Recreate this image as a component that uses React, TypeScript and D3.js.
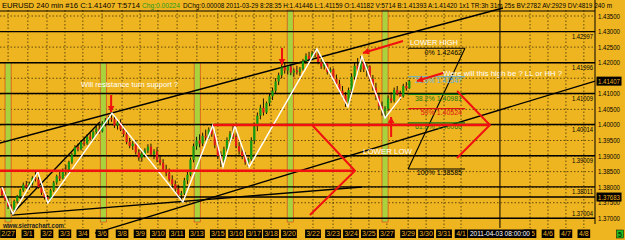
import React from 'react';
import * as d3 from 'd3';

const W = 625;
const H = 240;
const BG = '#EFB520';
const FONT = '"Liberation Sans", Arial, sans-serif';

// EURUSD 240 min bars, prices in pips above 1.3700: [open, high, low, close]
const pipBase = 1.37;
const bars: number[][] = [
  [98, 100, 70, 75], [75, 82, 55, 60], [60, 66, 30, 38], [38, 45, 14, 28],
  [28, 60, 25, 55], [55, 75, 48, 70], [70, 95, 62, 90], [90, 115, 85, 108], [108, 120, 95, 100], [100, 118, 92, 112], [112, 135, 105, 130], [130, 149, 118, 125],
  [125, 132, 95, 100], [100, 108, 75, 82], [82, 90, 60, 68], [68, 75, 49, 62],
  [62, 95, 58, 90], [90, 120, 85, 115], [115, 140, 108, 135], [135, 150, 120, 128], [128, 160, 125, 155], [155, 172, 140, 150], [150, 185, 145, 180],
  [180, 210, 175, 205], [205, 235, 200, 228], [228, 240, 215, 222], [222, 250, 218, 245], [245, 262, 232, 240], [240, 270, 236, 262], [262, 275, 250, 255],
  [255, 282, 250, 278], [278, 295, 268, 288], [288, 300, 272, 280], [280, 312, 276, 305], [305, 322, 295, 315], [315, 330, 302, 322], [322, 338, 310, 318],
  [318, 330, 290, 298], [298, 315, 285, 308], [308, 318, 280, 285], [285, 295, 262, 270], [270, 280, 238, 245], [245, 258, 225, 232], [232, 248, 220, 240],
  [240, 252, 205, 212], [212, 222, 185, 195], [195, 215, 182, 208], [208, 225, 195, 218], [218, 238, 210, 230], [230, 240, 200, 205], [205, 222, 190, 215],
  [215, 228, 180, 188], [188, 200, 170, 178], [178, 190, 150, 158], [158, 172, 135, 145], [145, 160, 118, 125], [125, 138, 100, 110], [110, 122, 85, 95],
  [95, 108, 65, 75], [75, 88, 52, 80],
  [80, 130, 75, 122], [122, 150, 110, 140], [140, 195, 135, 188], [188, 240, 180, 232], [232, 262, 220, 250], [250, 270, 228, 240], [240, 275, 232, 265],
  [265, 285, 250, 260], [260, 292, 255, 285], [285, 300, 262, 270],
  [270, 280, 225, 235], [235, 245, 190, 200], [200, 215, 165, 185],
  [185, 230, 178, 222], [222, 260, 215, 252], [252, 280, 240, 272], [272, 297, 255, 262],
  [262, 270, 225, 232], [232, 245, 205, 215], [215, 228, 190, 200], [200, 212, 172, 180], [180, 195, 165, 190],
  [190, 260, 185, 250], [250, 305, 240, 295], [295, 340, 280, 330], [330, 365, 318, 355], [355, 385, 330, 340], [340, 375, 335, 370], [370, 400, 360, 392],
  [392, 420, 380, 410], [410, 450, 400, 440], [440, 468, 428, 460], [460, 495, 450, 485], [485, 500, 465, 475], [475, 492, 462, 488], [488, 495, 460, 468],
  [468, 482, 455, 475], [475, 490, 462, 470], [470, 486, 458, 480], [480, 512, 475, 505], [505, 530, 498, 522], [522, 535, 505, 512], [512, 538, 508, 530],
  [530, 544, 518, 525],
  [525, 535, 495, 502], [502, 512, 480, 488], [488, 505, 478, 498], [498, 503, 462, 470], [470, 485, 455, 478], [478, 482, 440, 448], [448, 462, 425, 432],
  [432, 445, 400, 410], [410, 425, 385, 395], [395, 405, 358, 372],
  [372, 420, 365, 412], [412, 465, 405, 455], [455, 500, 445, 490], [490, 515, 470, 478], [478, 521, 470, 505],
  [505, 512, 470, 478], [478, 495, 455, 488], [488, 492, 440, 448], [448, 460, 410, 420], [420, 435, 380, 392], [392, 400, 350, 360], [360, 375, 330, 345],
  [345, 360, 322, 352],
  [352, 395, 345, 385], [385, 405, 370, 378], [378, 420, 372, 412], [412, 425, 395, 400], [400, 410, 380, 392], [392, 432, 388, 425], [425, 438, 410, 418],
  [418, 445, 416, 441],
];

// price axis
const priceTicks = [1.435, 1.43, 1.425, 1.42, 1.415, 1.41, 1.405, 1.4, 1.395, 1.39, 1.385, 1.38, 1.375, 1.37];
const hiddenTicks = [1.415];
const markerPrices = [1.41407, 1.37683];

// drawn horizontal levels
const levelPrices = [1.42997, 1.41996, 1.41009, 1.40014, 1.39009, 1.38011, 1.37683, 1.37004];
const levelLabels = ['1.42997', '1.41996', '1.41009', '1.40014', '1.39009', '1.38011', '', '1.37004'];

// date axis (bar index of each label)
const dateLabels = ['2/27', '3/1', '3/2', '3/3', '3/4', '3/6', '3/8', '3/9', '3/10', '3/11', '3/13', '3/15', '3/16', '3/17', '3/18', '3/20',
  '3/22', '3/23', '3/24', '3/25', '3/27', '3/29', '3/30', '3/31', '4/1', '4/5', '4/6', '4/7', '4/8'];
const dateBars = [2, 8.5, 14.8, 20.7, 26.6, 32.9, 39.5, 45.4, 51.3, 57.6, 64.1, 71, 77, 82.9, 88.5, 94.4,
  102.3, 108.9, 114.8, 120.7, 126.6, 133.6, 139.5, 145.4, 151, 173.7, 179.6, 185.5, 191.4];
const cursorBar = 163.8;
const cursorLabel = '2011-04-03 08:00:00';

// sunday session highlight bands
const bandBars = [1, 32.3, 63.2, 93.8, 125];
const bandTops = [1.42, 1.42, 1.42, 1.438, 1.438];

// zigzag swing points
const zigBars = [0, 3.6, 11.8, 15.1, 36.2, 59.5, 69.4, 72.7, 76.6, 81.3, 103.6, 113.8, 118.4, 126, 131.3];
const zigPrices = [1.38, 1.3714, 1.3849, 1.3749, 1.4038, 1.3752, 1.4, 1.3865, 1.3997, 1.3865, 1.4244, 1.4058, 1.4221, 1.4022, 1.409];

// black trend lines [bar1, price1, bar2, price2]
const trendLines = [
  [-0.7, 1.39419, 164.8, 1.43757],
  [3.3, 1.37138, 32.2, 1.40094],
  [3.3, 1.37105, 118.4, 1.38005],
  [30.6, 1.36527, 195.1, 1.41411],
];

// fibonacci retracement
const fibNames = ['0%', '23.6%', '38.2%', '50%', '61.8%', '100%'];
const fibPrices = [1.42462, 1.41547, 1.40981, 1.40524, 1.40066, 1.38585];
const fibFrom = 133.6;
const fibTo = 152.3;
const fibColors = ['#000', '#5ab4e6', '#147814', '#e01010', '#147814', '#000'];

// red annotation polylines, [bar, price] points
const redLines = [
  [[-0.7, 1.38529], [116.1, 1.38529]],
  [[69.4, 1.39997], [160.5, 1.39997]],
  [[102, 1.39997], [116.1, 1.38529], [101.3, 1.37105]],
  [[149.7, 1.4109], [160.5, 1.39997], [149.7, 1.38937]],
];
// red arrows [fromBar, fromPrice, toBar, toPrice]
const redArrows = [
  [35.9, 1.40961, 35.9, 1.40415],
  [92.1, 1.42472, 92.1, 1.41925],
  [128, 1.39612, 128, 1.40255],
  [131.9, 1.42697, 118.75, 1.42311],
  [145.1, 1.41668, 136.5, 1.41411],
];

// white notes [text, bar, price, width]
const noteTexts = ['Will resistance turn support ?', 'LOWER HIGH', 'LOWER LOW', 'Were will this high be ? LL or HH ?'];
const noteBars = [26, 134.2, 118.75, 145.1];
const notePrices = [1.41218, 1.42584, 1.39082, 1.41572];
const noteWidths = [97, 48, 49, 119];

const x = d3.scaleLinear().domain([0, 195]).range([2, 594.8]);
const y = d3.scaleLinear().domain([1.37, 1.435]).range([218.3, 16]);
const pip = (v: number) => pipBase + v / 10000;

const CHART_TOP = 10;
const CHART_BOTTOM = 222;
const AXIS_X = 595;

function arrowHead(x1: number, y1: number, x2: number, y2: number, len = 6, w = 3.3) {
  const a = Math.atan2(y2 - y1, x2 - x1);
  const bx = x2 - len * Math.cos(a);
  const by = y2 - len * Math.sin(a);
  return `${x2},${y2} ${bx + w * Math.sin(a)},${by - w * Math.cos(a)} ${bx - w * Math.sin(a)},${by + w * Math.cos(a)}`;
}

export default function App() {
  const line = d3.line<number[]>().x((d) => x(d[0])).y((d) => y(d[1]));
  const zig = zigBars.map((b, i) => [b, zigPrices[i]]);

  return (
    <svg width={W} height={H} style={{ position: 'absolute', left: 0, top: 0, fontFamily: FONT }}>
      <rect width={W} height={H} fill={BG} />

      {/* grid */}
      {priceTicks.map((p) => (
        <line key={'hg' + p} x1={0} x2={AXIS_X} y1={y(p)} y2={y(p)} stroke="#000" strokeWidth={0.8} strokeDasharray="1.5,2" opacity={0.75} />
      ))}
      {dateBars.map((b) => (
        <line key={'vg' + b} x1={x(b)} x2={x(b)} y1={CHART_TOP} y2={CHART_BOTTOM + 6} stroke="#000" strokeWidth={0.8} strokeDasharray="1.5,2" opacity={0.75} />
      ))}

      {/* sunday bands */}
      {bandBars.map((b, i) => {
        const top = Math.max(CHART_TOP, y(bandTops[i]));
        return (
          <rect key={'band' + i} x={x(b)} y={top} width={x(b + 2) - x(b)} height={CHART_BOTTOM - top}
            fill="#a9d23c" stroke="#d8301c" strokeWidth={0.6} />
        );
      })}

      {/* chart frame */}
      <line x1={0} x2={AXIS_X} y1={CHART_TOP + 1} y2={CHART_TOP + 1} stroke="#000" strokeWidth={1} />
      <line x1={AXIS_X} x2={AXIS_X} y1={0} y2={CHART_BOTTOM + 2} stroke="#000" strokeWidth={1} />

      {/* horizontal levels */}
      {levelPrices.map((p, i) => (
        <g key={'lv' + i}>
          <line x1={0} x2={AXIS_X} y1={y(p)} y2={y(p)} stroke="#000" strokeWidth={1.4} />
          {levelLabels[i] && (
            <text x={AXIS_X - 2} y={p < 1.371 ? y(p) - 2.5 : y(p) + 7.5} fontSize={7} textAnchor="end" textLength={21} lengthAdjust="spacingAndGlyphs">
              {levelLabels[i]}
            </text>
          )}
        </g>
      ))}

      {/* trend lines */}
      {trendLines.map((t, i) => (
        <line key={'tl' + i} x1={x(t[0])} y1={y(t[1])} x2={x(t[2])} y2={y(t[3])} stroke="#000" strokeWidth={1.3} />
      ))}

      {/* candles */}
      {bars.map((d, i) => {
        const [o, h, l, c] = d.map(pip);
        const cx = x(i);
        const up = c >= o;
        const top = y(Math.max(o, c));
        const bot = y(Math.min(o, c));
        return (
          <g key={'c' + i}>
            <line x1={cx} x2={cx} y1={y(h)} y2={y(l)} stroke="#000" strokeWidth={0.9} />
            <rect x={cx - 1.1} y={top} width={2.2} height={Math.max(0.8, bot - top)} fill={up ? '#129a12' : '#e01a1a'} />
          </g>
        );
      })}

      {/* zigzag */}
      <path d={line(zig) || ''} fill="none" stroke="#fff" strokeWidth={1.4} />

      {/* fibonacci */}
      <line x1={x(fibTo)} y1={y(fibPrices[0])} x2={x(fibFrom)} y2={y(fibPrices[5])} stroke="#000" strokeWidth={1.1} />
      {fibPrices.map((p, i) => (
        <g key={'fib' + i}>
          <line x1={x(fibFrom)} x2={x(fibTo)} y1={y(p)} y2={y(p)} stroke={fibColors[i]} strokeWidth={1.1} />
          <text x={x(fibTo) - 3} y={y(p) + 6.5} fontSize={7} fill={fibColors[i]} textAnchor="end">
            {`${fibNames[i]} ${p.toFixed(5)}`}
          </text>
        </g>
      ))}

      {/* red annotations */}
      {redLines.map((pts, i) => (
        <path key={'rl' + i} d={line(pts) || ''} fill="none" stroke="#f01010" strokeWidth={i < 2 ? 2.6 : 2} strokeLinejoin="miter" />
      ))}
      {redArrows.map((a, i) => {
        const x1 = x(a[0]), y1 = y(a[1]), x2 = x(a[2]), y2 = y(a[3]);
        return (
          <g key={'ra' + i}>
            <line x1={x1} y1={y1} x2={x2} y2={y2} stroke="#f01010" strokeWidth={2} />
            <polygon points={arrowHead(x1, y1, x2, y2)} fill="#f01010" />
          </g>
        );
      })}

      {/* notes */}
      {noteTexts.map((t, i) => (
        <text key={'n' + i} x={x(noteBars[i])} y={y(notePrices[i])} fontSize={8} fill="#fff" textLength={noteWidths[i]} lengthAdjust="spacingAndGlyphs">
          {t}
        </text>
      ))}

      {/* cursor */}
      <line x1={x(cursorBar)} x2={x(cursorBar)} y1={0} y2={CHART_BOTTOM + 6} stroke="#000" strokeWidth={1} />

      {/* right axis */}
      {priceTicks.filter((p) => !hiddenTicks.includes(p)).map((p) => (
        <text key={'pt' + p} x={598} y={y(p) + 2.5} fontSize={7} textLength={22} lengthAdjust="spacingAndGlyphs">{p.toFixed(5)}</text>
      ))}
      {markerPrices.map((p) => (
        <g key={'mk' + p}>
          <rect x={596.5} y={y(p) - 4.5} width={25} height={9} fill="#000" />
          <text x={598} y={y(p) + 2.5} fontSize={7} fill={BG} textLength={22} lengthAdjust="spacingAndGlyphs">{p.toFixed(5)}</text>
        </g>
      ))}

      {/* date axis */}
      <text x={3} y={227.5} fontSize={7} fontWeight="bold" fill="#222" textLength={61} lengthAdjust="spacingAndGlyphs">www.sierrachart.com</text>
      {dateLabels.map((t, i) => {
        const w = t.length * 3.2 + 3;
        return (
          <g key={'d' + i}>
            <rect x={x(dateBars[i]) - w / 2} y={229.5} width={w} height={8.5} fill="#000" />
            <text x={x(dateBars[i])} y={236.3} fontSize={7} fill={BG} textAnchor="middle">{t}</text>
          </g>
        );
      })}
      <rect x={x(cursorBar) - 32} y={229.5} width={64} height={8.5} fill="#000" />
      <text x={x(cursorBar)} y={236.3} fontSize={7} fill="#fff" textAnchor="middle" textLength={60} lengthAdjust="spacingAndGlyphs">{cursorLabel}</text>
      <rect x={616.5} y={230} width={7} height={8} fill="#20c020" stroke="#000" strokeWidth={0.5} />
      <text x={620} y={236.5} fontSize={7} textAnchor="middle">5</text>

      {/* header */}
      <text x={2} y={8} fontSize={7} textLength={138} lengthAdjust="spacingAndGlyphs">EURUSD  240 min  #16 C:1.41407 T:5714</text>
      <text x={142} y={8} fontSize={7} fill="#1a9a1a" textLength={38} lengthAdjust="spacingAndGlyphs">Chg:0.00224</text>
      <text x={183} y={8} fontSize={7} textLength={429} lengthAdjust="spacingAndGlyphs">
        DChg:0.00008 2011-03-29 8:28:35 H:1.41446 L:1.41159 O:1.41182 V:5714 B:1.41393 A:1.41420 1x1 TR:3h 31m 25s BV:2782 AV:2929 DV:4819 240 m
      </text>
    </svg>
  );
}
